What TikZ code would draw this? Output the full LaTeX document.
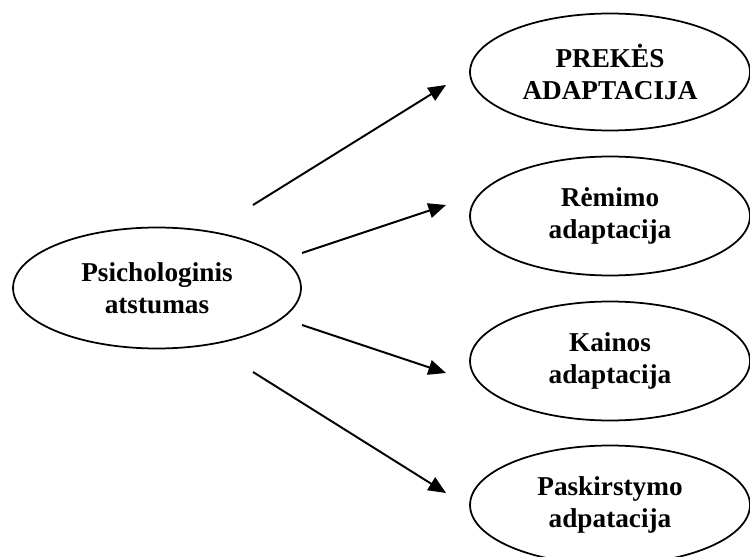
\documentclass[tikz,border=0pt]{standalone}
\usepackage{fontspec}
\setmainfont{Liberation Serif}
\usetikzlibrary{shapes.geometric,arrows.meta}

\tikzset{
  oval/.style={ellipse, draw, line width=1pt, align=center,
    font=\fontsize{15.5}{18}\selectfont\bfseries, inner sep=0pt},
  bigoval/.style={oval, minimum width=5.76cm, minimum height=2.42cm},
  smalloval/.style={oval, minimum width=5.6cm, minimum height=2.38cm},
  arr/.style={line width=1.1pt, -{Triangle[length=10pt,width=8.5pt]}}
}

\begin{document}
\begin{tikzpicture}[x=0.02cm, y=-0.02cm]
\useasboundingbox (0,0) rectangle (750,557);

\node[bigoval] (psi) at (157,288) {Psichologinis\\atstumas};

\node[smalloval, minimum height=2.34cm] (preke) at (610,72) {PREKĖS\\ADAPTACIJA};
\node[smalloval] (remimo) at (610,216) {Rėmimo\\adaptacija};
\node[smalloval] (kainos) at (610,361) {Kainos\\adaptacija};
\node[smalloval] (paskirst) at (610,505) {Paskirstymo\\adpatacija};

% arrow ends
\coordinate (s1) at (253,205);
\coordinate (s2) at (302,253);
\coordinate (s3) at (302,325);
\coordinate (s4) at (253,372);
\coordinate (e1) at (446,85);
\coordinate (e2) at (446,205);
\coordinate (e3) at (446,373);
\coordinate (e4) at (446,493);

\draw[arr] (s1) -- (e1);
\draw[arr] (s2) -- (e2);
\draw[arr] (s3) -- (e3);
\draw[arr] (s4) -- (e4);

\end{tikzpicture}
\end{document}
